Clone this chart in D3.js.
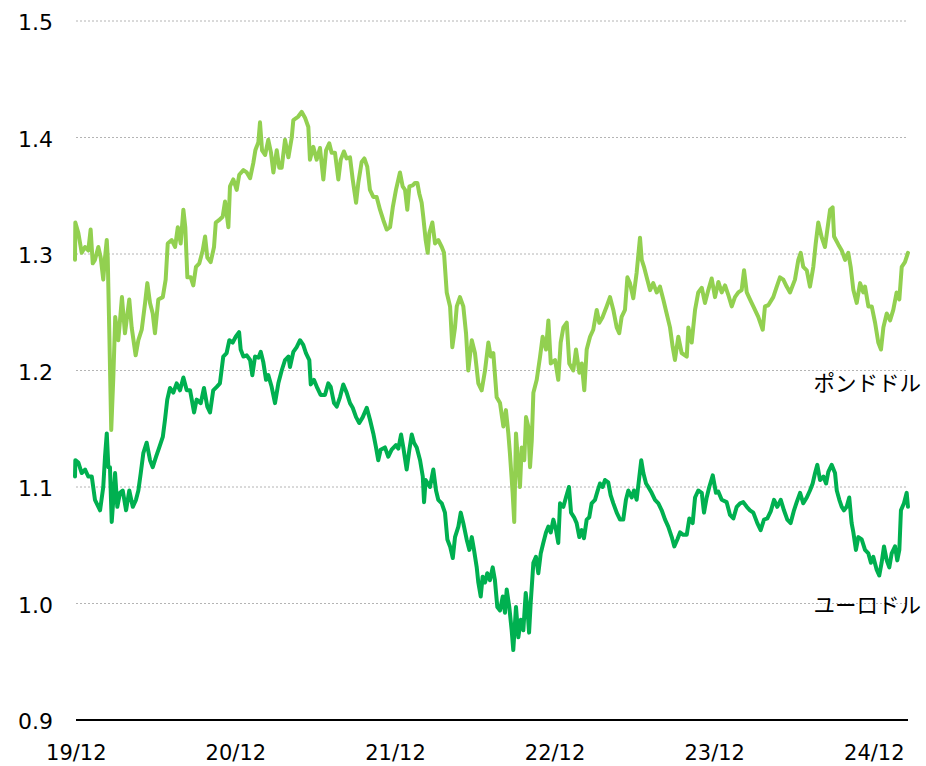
<!DOCTYPE html>
<html>
<head>
<meta charset="utf-8">
<script src="https://cdn.jsdelivr.net/npm/d3@7"></script>
<style>
  body { margin: 0; background: #fff; }
</style>
</head>
<body>
<div id="chart"></div>
<script>
// decimal-year positions of each observation
const gbpDates = [
  2019.892,2019.894,2019.913,2019.934,2019.955,2019.975,2019.990,2020.003,2020.017,2020.038,
  2020.053,2020.069,2020.080,2020.091,2020.097,2020.107,2020.119,2020.132,2020.144,2020.163,
  2020.174,2020.186,2020.205,2020.232,2020.247,2020.272,2020.289,2020.310,2020.331,2020.345,
  2020.362,2020.379,2020.393,2020.414,2020.442,2020.460,2020.473,2020.498,2020.519,2020.536,
  2020.554,2020.571,2020.583,2020.596,2020.617,2020.633,2020.650,2020.671,2020.692,2020.707,
  2020.721,2020.742,2020.763,2020.774,2020.794,2020.817,2020.832,2020.853,2020.863,2020.884,
  2020.905,2020.921,2020.947,2020.968,2020.989,2021.009,2021.022,2021.041,2021.051,2021.064,
  2021.083,2021.103,2021.120,2021.135,2021.156,2021.172,2021.187,2021.208,2021.229,2021.250,
  2021.260,2021.291,2021.312,2021.333,2021.354,2021.364,2021.385,2021.406,2021.427,2021.448,
  2021.465,2021.485,2021.500,2021.521,2021.542,2021.557,2021.577,2021.594,2021.615,2021.632,
  2021.653,2021.667,2021.688,2021.705,2021.723,2021.740,2021.761,2021.782,2021.803,2021.824,
  2021.845,2021.866,2021.883,2021.903,2021.928,2021.945,2021.960,2021.974,2021.987,2022.008,
  2022.022,2022.037,2022.049,2022.064,2022.074,2022.089,2022.102,2022.112,2022.131,2022.148,
  2022.168,2022.190,2022.204,2022.221,2022.242,2022.256,2022.273,2022.284,2022.304,2022.325,
  2022.342,2022.356,2022.378,2022.398,2022.419,2022.440,2022.461,2022.482,2022.497,2022.513,
  2022.534,2022.555,2022.576,2022.592,2022.607,2022.617,2022.634,2022.644,2022.655,2022.670,
  2022.680,2022.691,2022.707,2022.718,2022.732,2022.743,2022.754,2022.764,2022.785,2022.806,
  2022.822,2022.843,2022.858,2022.873,2022.900,2022.920,2022.935,2022.952,2022.973,2022.989,
  2023.014,2023.031,2023.052,2023.067,2023.083,2023.098,2023.119,2023.139,2023.161,2023.177,
  2023.198,2023.223,2023.244,2023.265,2023.286,2023.302,2023.317,2023.338,2023.353,2023.369,
  2023.390,2023.411,2023.432,2023.443,2023.457,2023.474,2023.495,2023.515,2023.537,2023.557,
  2023.578,2023.599,2023.620,2023.637,2023.651,2023.672,2023.693,2023.725,2023.735,2023.756,
  2023.777,2023.797,2023.819,2023.839,2023.860,2023.881,2023.902,2023.923,2023.944,2023.965,
  2023.985,2024.007,2024.027,2024.048,2024.069,2024.084,2024.101,2024.121,2024.142,2024.173,
  2024.201,2024.215,2024.236,2024.267,2024.289,2024.309,2024.330,2024.351,2024.372,2024.403,
  2024.424,2024.439,2024.455,2024.477,2024.497,2024.518,2024.533,2024.549,2024.571,2024.591,
  2024.606,2024.623,2024.639,2024.648,2024.675,2024.696,2024.717,2024.737,2024.752,2024.769,
  2024.790,2024.811,2024.831,2024.842,2024.863,2024.884,2024.905,2024.925,2024.942,2024.957,
  2024.978,2024.999,2025.019,2025.040,2025.057,2025.072,2025.092,2025.111
];
const gbpRates = [
  1.295,1.327,1.318,1.301,1.306,1.303,1.321,1.292,1.295,1.306,
  1.297,1.278,1.297,1.312,1.297,1.232,1.149,1.194,1.246,1.226,
  1.243,1.263,1.232,1.261,1.237,1.213,1.226,1.235,1.258,1.275,
  1.258,1.249,1.232,1.261,1.263,1.278,1.309,1.312,1.306,1.323,
  1.309,1.338,1.323,1.280,1.280,1.273,1.289,1.292,1.303,1.315,
  1.297,1.293,1.306,1.327,1.329,1.332,1.345,1.323,1.358,1.364,
  1.355,1.368,1.372,1.370,1.365,1.378,1.389,1.396,1.413,1.389,
  1.385,1.398,1.387,1.370,1.389,1.374,1.374,1.398,1.383,1.400,
  1.415,1.418,1.422,1.417,1.409,1.381,1.392,1.381,1.391,1.364,
  1.389,1.395,1.387,1.387,1.364,1.381,1.388,1.382,1.383,1.364,
  1.344,1.361,1.379,1.382,1.375,1.355,1.349,1.349,1.338,1.329,
  1.321,1.323,1.340,1.355,1.370,1.358,1.355,1.338,1.358,1.359,
  1.361,1.361,1.352,1.344,1.332,1.312,1.301,1.318,1.327,1.309,
  1.312,1.306,1.301,1.267,1.255,1.220,1.237,1.255,1.263,1.255,
  1.232,1.200,1.226,1.215,1.189,1.183,1.200,1.224,1.212,1.215,
  1.177,1.172,1.152,1.166,1.146,1.129,1.095,1.070,1.146,1.117,
  1.100,1.134,1.123,1.160,1.152,1.117,1.140,1.181,1.192,1.212,
  1.229,1.218,1.243,1.206,1.209,1.192,1.224,1.237,1.241,1.206,
  1.200,1.218,1.198,1.206,1.183,1.218,1.229,1.235,1.252,1.241,
  1.246,1.255,1.263,1.252,1.237,1.232,1.246,1.252,1.280,1.275,
  1.262,1.284,1.314,1.295,1.289,1.280,1.269,1.275,1.267,1.272,
  1.261,1.249,1.237,1.220,1.209,1.229,1.215,1.212,1.237,1.224,
  1.252,1.267,1.271,1.258,1.269,1.279,1.263,1.276,1.267,1.273,
  1.265,1.255,1.263,1.267,1.269,1.286,1.267,1.261,1.255,1.246,
  1.235,1.255,1.256,1.263,1.272,1.280,1.278,1.272,1.267,1.278,
  1.295,1.301,1.289,1.286,1.272,1.289,1.309,1.327,1.314,1.306,
  1.321,1.338,1.340,1.315,1.308,1.303,1.295,1.301,1.289,1.269,
  1.258,1.275,1.267,1.272,1.255,1.255,1.241,1.224,1.218,1.237,
  1.249,1.243,1.252,1.267,1.261,1.289,1.293,1.301
];
const eurDates = [
  2019.892,2019.894,2019.913,2019.934,2019.955,2019.975,2019.997,2020.017,2020.049,2020.069,
  2020.080,2020.091,2020.101,2020.111,2020.122,2020.132,2020.143,2020.157,2020.174,2020.191,
  2020.212,2020.232,2020.254,2020.274,2020.289,2020.304,2020.320,2020.341,2020.362,2020.379,
  2020.400,2020.420,2020.442,2020.456,2020.470,2020.487,2020.508,2020.529,2020.550,2020.571,
  2020.592,2020.613,2020.638,2020.654,2020.680,2020.700,2020.721,2020.738,2020.758,2020.780,
  2020.800,2020.821,2020.842,2020.859,2020.880,2020.899,2020.920,2020.930,2020.947,2020.968,
  2020.989,2021.003,2021.020,2021.041,2021.056,2021.072,2021.089,2021.103,2021.124,2021.145,
  2021.166,2021.187,2021.208,2021.229,2021.239,2021.260,2021.281,2021.302,2021.322,2021.339,
  2021.360,2021.369,2021.389,2021.410,2021.431,2021.458,2021.479,2021.494,2021.515,2021.532,
  2021.552,2021.573,2021.594,2021.615,2021.632,2021.653,2021.673,2021.695,2021.720,2021.740,
  2021.761,2021.778,2021.792,2021.807,2021.834,2021.855,2021.876,2021.903,2021.918,2021.935,
  2021.949,2021.970,2021.987,2022.002,2022.016,2022.033,2022.054,2022.071,2022.079,2022.089,
  2022.116,2022.137,2022.154,2022.168,2022.190,2022.210,2022.225,2022.242,2022.259,2022.273,
  2022.294,2022.309,2022.325,2022.346,2022.363,2022.378,2022.392,2022.409,2022.419,2022.434,
  2022.446,2022.461,2022.475,2022.492,2022.509,2022.523,2022.538,2022.555,2022.572,2022.586,
  2022.597,2022.613,2022.628,2022.638,2022.655,2022.670,2022.685,2022.701,2022.716,2022.726,
  2022.737,2022.747,2022.764,2022.780,2022.795,2022.810,2022.826,2022.843,2022.858,2022.873,
  2022.889,2022.906,2022.920,2022.931,2022.952,2022.968,2022.987,2023.000,2023.019,2023.035,
  2023.052,2023.067,2023.081,2023.098,2023.114,2023.129,2023.150,2023.165,2023.181,2023.198,
  2023.213,2023.233,2023.248,2023.265,2023.286,2023.307,2023.327,2023.344,2023.359,2023.380,
  2023.394,2023.411,2023.428,2023.440,2023.453,2023.470,2023.484,2023.505,2023.526,2023.547,
  2023.568,2023.589,2023.609,2023.631,2023.647,2023.666,2023.683,2023.703,2023.725,2023.741,
  2023.762,2023.777,2023.797,2023.819,2023.833,2023.850,2023.866,2023.888,2023.908,2023.923,
  2023.944,2023.975,2023.996,2024.017,2024.038,2024.059,2024.079,2024.101,2024.121,2024.142,
  2024.167,2024.188,2024.209,2024.230,2024.251,2024.272,2024.292,2024.314,2024.334,2024.355,
  2024.376,2024.397,2024.414,2024.435,2024.455,2024.477,2024.497,2024.514,2024.529,2024.543,
  2024.560,2024.581,2024.598,2024.612,2024.633,2024.654,2024.665,2024.681,2024.696,2024.710,
  2024.727,2024.743,2024.758,2024.769,2024.785,2024.800,2024.821,2024.842,2024.863,2024.879,
  2024.894,2024.915,2024.931,2024.946,2024.961,2024.978,2024.994,2025.009,2025.030,2025.044,
  2025.057,2025.067,2025.086,2025.103,2025.111
];
const eurRates = [
  1.109,1.123,1.121,1.112,1.115,1.109,1.109,1.089,1.080,1.100,
  1.126,1.146,1.117,1.117,1.070,1.089,1.112,1.083,1.095,1.097,
  1.080,1.097,1.083,1.089,1.097,1.112,1.129,1.138,1.123,1.117,
  1.126,1.134,1.143,1.158,1.175,1.185,1.181,1.189,1.183,1.194,
  1.183,1.183,1.164,1.175,1.172,1.185,1.169,1.164,1.183,1.186,
  1.189,1.212,1.215,1.226,1.224,1.229,1.233,1.218,1.212,1.213,
  1.209,1.196,1.212,1.211,1.216,1.207,1.192,1.196,1.186,1.172,
  1.189,1.200,1.209,1.212,1.203,1.216,1.220,1.226,1.222,1.215,
  1.209,1.188,1.192,1.185,1.179,1.179,1.189,1.186,1.172,1.169,
  1.177,1.188,1.181,1.172,1.168,1.160,1.155,1.160,1.168,1.158,
  1.146,1.134,1.123,1.132,1.134,1.126,1.132,1.136,1.133,1.145,
  1.134,1.115,1.132,1.145,1.138,1.134,1.123,1.109,1.087,1.106,
  1.100,1.115,1.097,1.089,1.086,1.078,1.055,1.049,1.039,1.057,
  1.066,1.078,1.069,1.055,1.046,1.057,1.046,1.031,1.018,1.006,
  1.023,1.018,1.026,1.020,1.031,1.020,0.997,0.994,1.006,0.992,
  1.012,0.997,0.977,0.960,0.997,0.971,0.986,0.977,1.009,0.997,
  0.975,1.000,1.035,1.040,1.026,1.043,1.052,1.061,1.066,1.061,
  1.072,1.063,1.052,1.086,1.083,1.091,1.100,1.078,1.074,1.069,
  1.057,1.063,1.056,1.072,1.074,1.086,1.089,1.096,1.103,1.100,
  1.106,1.104,1.093,1.086,1.078,1.072,1.072,1.089,1.097,1.091,
  1.097,1.089,1.109,1.123,1.112,1.103,1.100,1.095,1.089,1.086,
  1.080,1.072,1.066,1.057,1.049,1.055,1.061,1.059,1.059,1.073,
  1.069,1.091,1.097,1.095,1.078,1.091,1.100,1.110,1.095,1.096,
  1.089,1.087,1.076,1.073,1.083,1.086,1.087,1.083,1.080,1.078,
  1.069,1.063,1.072,1.073,1.079,1.089,1.083,1.089,1.080,1.072,
  1.069,1.080,1.087,1.095,1.086,1.091,1.097,1.103,1.112,1.119,
  1.106,1.109,1.103,1.113,1.119,1.112,1.097,1.089,1.083,1.080,
  1.083,1.091,1.069,1.061,1.046,1.057,1.055,1.046,1.043,1.035,
  1.040,1.029,1.024,1.035,1.049,1.037,1.031,1.043,1.049,1.037,
  1.046,1.080,1.086,1.095,1.083
];

const yTicks = [0.9, 1.0, 1.1, 1.2, 1.3, 1.4, 1.5];
const xTickYears = [2019.9, 2020.9, 2021.9, 2022.9, 2023.9, 2024.9];
const xTickLabels = ['19/12', '20/12', '21/12', '22/12', '23/12', '24/12'];

const seriesNames = ['ポンドドル', 'ユーロドル'];
const seriesColors = ['#92D050', '#00B050'];

const width = 926;
const height = 766;
const plotLeft = 76;
const plotRight = 908;

const xScale = d3.scaleLinear([2019.917, 2024.917], [79, 877]);
const yScale = d3.scaleLinear([0.9, 1.5], [720, 21]);

const svg = d3
  .select('#chart')
  .append('svg')
  .attr('width', width)
  .attr('height', height)
  .style('display', 'block')
  .style('background', '#fff');

// grid lines (dotted) + base axis line at 0.9
svg
  .append('g')
  .selectAll('line')
  .data(yTicks)
  .join('line')
  .attr('x1', plotLeft)
  .attr('x2', plotRight)
  .attr('y1', (d) => yScale(d))
  .attr('y2', (d) => yScale(d))
  .attr('stroke', (d) => (d === 0.9 ? '#000' : '#b4b4b4'))
  .attr('stroke-width', (d) => (d === 0.9 ? 2 : 1))
  .attr('stroke-dasharray', (d) => (d === 0.9 ? null : '2,2'));

// y labels
svg
  .append('g')
  .selectAll('text')
  .data(yTicks)
  .join('text')
  .attr('x', 53)
  .attr('y', (d) => yScale(d) + 9)
  .attr('text-anchor', 'end')
  .style('font-family', '"DejaVu Sans", Verdana, sans-serif')
  .style('font-size', '22px')
  .style('fill', '#000')
  .text((d) => d.toFixed(1));

// x labels
svg
  .append('g')
  .selectAll('text')
  .data(xTickYears)
  .join('text')
  .attr('x', (d) => xScale(d))
  .attr('y', 760)
  .attr('text-anchor', 'middle')
  .style('font-family', '"DejaVu Sans", Verdana, sans-serif')
  .style('font-size', '21px')
  .style('fill', '#000')
  .text((d, i) => xTickLabels[i]);

const line = d3
  .line()
  .x((d) => xScale(d[0]))
  .y((d) => yScale(d[1]))
  .curve(d3.curveLinear);

const seriesData = [
  d3.zip(gbpDates, gbpRates),
  d3.zip(eurDates, eurRates),
];

svg
  .append('g')
  .selectAll('path')
  .data(seriesData)
  .join('path')
  .attr('fill', 'none')
  .attr('stroke', (d, i) => seriesColors[i])
  .attr('stroke-width', 4)
  .attr('stroke-linejoin', 'round')
  .attr('stroke-linecap', 'round')
  .attr('d', line);

// series labels at right
const labelBaselines = [391, 613];
svg
  .append('g')
  .selectAll('text')
  .data(seriesNames)
  .join('text')
  .attr('x', 921)
  .attr('y', (d, i) => labelBaselines[i])
  .attr('text-anchor', 'end')
  .style('font-family', '"Noto Sans CJK JP", sans-serif')
  .style('font-size', '21.5px')
  .style('fill', '#000')
  .text((d) => d);
</script>
</body>
</html>
